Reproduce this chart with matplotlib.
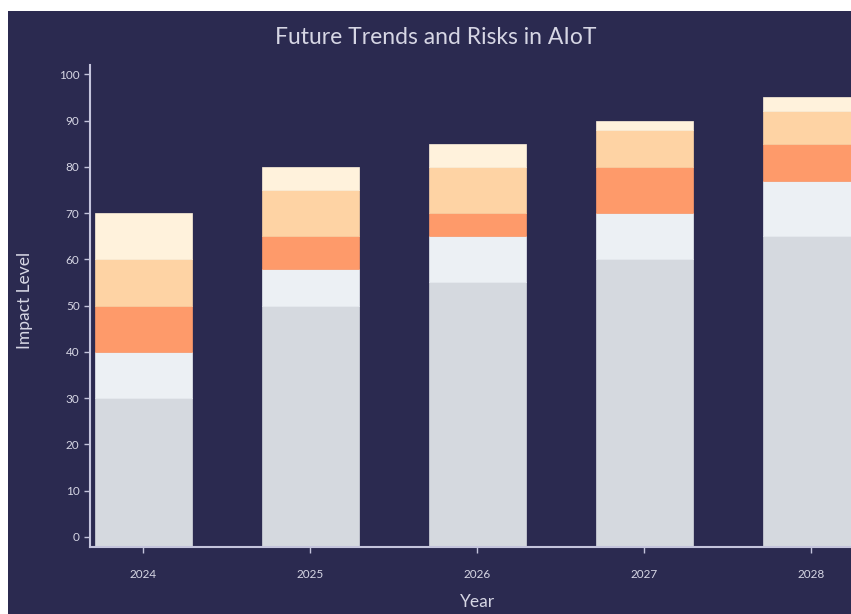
import matplotlib
matplotlib.use("Agg")
from matplotlib import pyplot as plt
from matplotlib.patches import Rectangle
import numpy as np

# Stacked impact levels per year (bottom segment first)
years = ["2024", "2025", "2026", "2027", "2028"]
core_adoption = [30, 50, 55, 60, 65]
edge_growth = [10, 8, 10, 10, 12]
security_risk = [10, 7, 5, 10, 8]
privacy_risk = [10, 10, 10, 8, 7]
regulation_risk = [10, 5, 5, 2, 3]

series = [core_adoption, edge_growth, security_risk, privacy_risk, regulation_risk]
colors = ["#d5d9df", "#ecf0f4", "#fe9a6a", "#fed3a4", "#fff2dc"]

BG = "#2b2a50"
FG = "#d6d6e4"

plt.rcParams["font.family"] = ["Lato", "DejaVu Sans"]

W, H = 851, 614
fig = plt.figure(figsize=(W / 100, H / 100), dpi=100, facecolor="white")
# navy panel behind everything
fig.patches.append(Rectangle((8 / W, 0), 1 - 8 / W, (H - 11) / H,
                             transform=fig.transFigure, facecolor=BG,
                             edgecolor="none", zorder=-10))

ax = fig.add_axes([90 / W, 67 / H, 805 / W, 482 / H])
ax.set_facecolor("none")

y_min, y_max = -2.2, 102
ax.set_ylim(y_min, y_max)
ax.set_xlim(-0.32, 4.5)

x = np.arange(len(years))
bottom = np.zeros(len(years))
for i, (vals, col) in enumerate(zip(series, colors)):
    vals = np.asarray(vals, dtype=float)
    # the first segment rests on the axis floor
    base = np.full(len(years), y_min) if i == 0 else bottom
    ax.bar(x, bottom + vals - base, bottom=base, width=0.58, color=col,
           edgecolor=col, linewidth=0.5, zorder=2)
    bottom = bottom + vals

ax.set_xticks(x)
ax.set_xticklabels(years)
ax.set_yticks(np.arange(0, 101, 10))

for side in ["top", "right"]:
    ax.spines[side].set_visible(False)
for side in ["left", "bottom"]:
    ax.spines[side].set_color("#c4c4dc")
    ax.spines[side].set_linewidth(1.5)
    ax.spines[side].set_zorder(3)

ax.tick_params(axis="both", colors="#c4c4dc", labelcolor=FG, labelsize=8.5,
               length=4, width=1)
ax.tick_params(axis="x", pad=12)

ax.set_ylabel("Impact Level", color=FG, fontsize=12.5, va="center")
ax.yaxis.set_label_coords(-65 / 805, (547 - 300) / 482)
ax.set_xlabel("Year", color=FG, fontsize=12.5, va="center")
ax.xaxis.set_label_coords((477 - 90) / 805, -(602 - 547) / 482)

fig.text(436 / W, 1 - 37 / H, "Future Trends and Risks in AIoT",
         color=FG, fontsize=16.5, ha="center", va="center")

fig.savefig("out.png", dpi=100, facecolor="white")
